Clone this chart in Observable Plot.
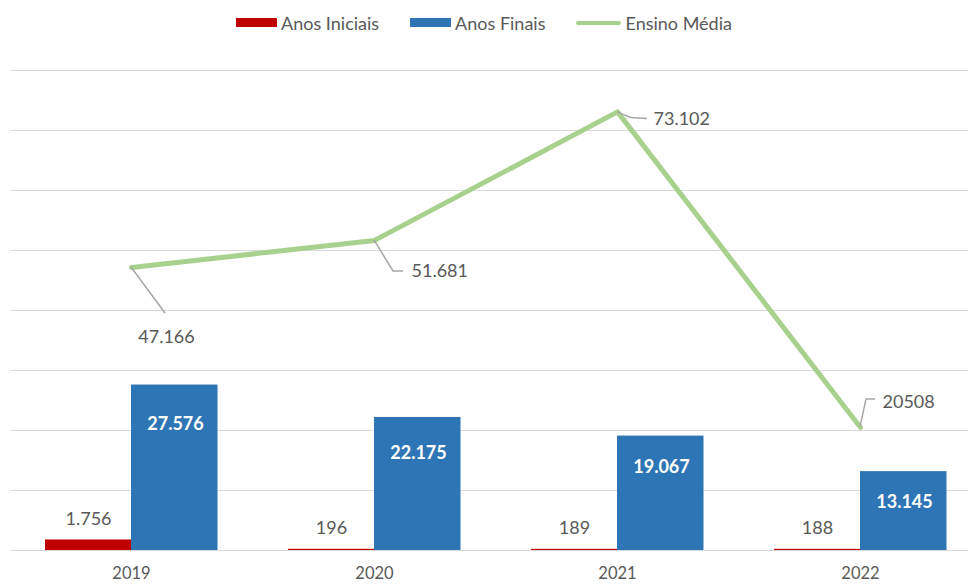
<!DOCTYPE html>
<html><head><meta charset="utf-8">
<script src="https://cdn.jsdelivr.net/npm/d3@7"></script>
<script src="https://cdn.jsdelivr.net/npm/@observablehq/plot@0.6"></script>
<style>
body{margin:0;background:#fff;font-family:Lato,"Open Sans",sans-serif;overflow:hidden;}
#legend{height:45px;display:flex;justify-content:center;align-items:center;gap:31px;color:#595959;font-size:18px;}
.item{display:flex;align-items:center;gap:4px}
.sw{width:41px;height:9px}
.ln{width:45px;height:4px;border-radius:2px}
</style></head><body>
<div id="legend"></div><div id="chart"></div>
<script>
// ---- data ----
const years = [2019, 2020, 2021, 2022];
const yearLabels = ["2019", "2020", "2021", "2022"];
const anosIniciais = [1756, 196, 189, 188];
const anosIniciaisLabels = ["1.756", "196", "189", "188"];
const anosFinais = [27576, 22175, 19067, 13145];
const anosFinaisLabels = ["27.576", "22.175", "19.067", "13.145"];
const ensinoMedia = [47166, 51681, 73102, 20508];
const ensinoMediaLabels = ["47.166", "51.681", "73.102", "20508"];
const seriesNames = ["Anos Iniciais", "Anos Finais", "Ensino Média"];
const yTicks = [0, 10000, 20000, 30000, 40000, 50000, 60000, 70000, 80000];

// ---- styling ----
const RED = "#C00000", BLUE = "#2E75B6", GREEN = "#A9D18E", GREY = "#595959";

// legend
const legend = document.getElementById("legend");
[["sw", RED], ["sw", BLUE], ["ln", GREEN]].forEach(([cls, col], i) => {
  const it = document.createElement("div"); it.className = "item";
  const s = document.createElement("div"); s.className = cls; s.style.background = col;
  const t = document.createElement("span"); t.textContent = seriesNames[i];
  it.appendChild(s); it.appendChild(t); legend.appendChild(it);
});

// label offsets (px) for the line labels and leader line shapes
const lineLabelStyle = [
  {dx: 35, dy: 70, textAnchor: "middle"},
  {dx: 37, dy: 31, textAnchor: "start"},
  {dx: 36, dy: 7, textAnchor: "start"},
  {dx: 22, dy: -25, textAnchor: "start"}
];
const leaderShapes = [
  [[0, 0], [34, 46]],
  [[0, 0], [19, 31], [29, 31]],
  [[0, 0], [6, 3], [14, 6], [30, 7]],
  [[0, 0], [6, -28], [15, -28]]
];
const blueDy = [39, 36, 31, 31];

function leaders(...args) {
  const scales = args.find(a => a && typeof a.x === "function" && typeof a.y === "function");
  const g = d3.create("svg:g").attr("fill", "none").attr("stroke", "#A6A6A6").attr("stroke-width", 1.5);
  years.forEach((yr, i) => {
    const px = scales.x(yr), py = scales.y(ensinoMedia[i]);
    g.append("path").attr("d", d3.line()(leaderShapes[i].map(([a, b]) => [px + a, py + b])));
  });
  return g.node();
}

const idx = years.map((d, i) => i);

const plot = Plot.plot({
  width: 968,
  height: 540,
  marginTop: 25,
  marginBottom: 35,
  marginLeft: 10,
  marginRight: 0,
  style: {fontFamily: "Lato, 'Open Sans', sans-serif", fontSize: "18px", color: GREY, background: "white"},
  x: {type: "linear", domain: [2018.5, 2022.5], range: [9.5, 981.5]},
  y: {domain: [0, 80000], axis: null},
  marks: [
    Plot.ruleY(yTicks, {stroke: "#D9D9D9", strokeWidth: 1}),
    Plot.axisX({ticks: years, tickFormat: (d) => yearLabels[years.indexOf(d)], tickSize: 0, tickPadding: 17, fontSize: 16.5, fill: GREY}),
    Plot.rect(idx, {x1: i => years[i] - 0.5, x2: i => years[i] + 0.5, y1: 0, y2: i => anosIniciais[i], fill: RED, insetLeft: 35.5, insetRight: 121.5}),
    Plot.rect(idx, {x1: i => years[i] - 0.5, x2: i => years[i] + 0.5, y1: 0, y2: i => anosFinais[i], fill: BLUE, insetLeft: 121.5, insetRight: 35}),
    Plot.text(idx, {x: i => years[i], y: i => anosIniciais[i], text: i => anosIniciaisLabels[i], dx: -43, dy: -21, fontSize: 18, fill: GREY}),
    ...idx.map(j => Plot.text([j], {x: i => years[i], y: i => anosFinais[i], text: i => anosFinaisLabels[i], dx: 44, dy: blueDy[j], fontSize: 18, fontWeight: "bold", fill: "white"})),
    Plot.line(idx, {x: i => years[i], y: i => ensinoMedia[i], stroke: GREEN, strokeWidth: 5, strokeLinejoin: "round", strokeLinecap: "round"}),
    leaders,
    ...idx.map(j => Plot.text([j], {x: i => years[i], y: i => ensinoMedia[i], text: i => ensinoMediaLabels[i], fontSize: 18, fill: GREY, ...lineLabelStyle[j]}))
  ]
});
document.getElementById("chart").appendChild(plot);
</script>
</body></html>
